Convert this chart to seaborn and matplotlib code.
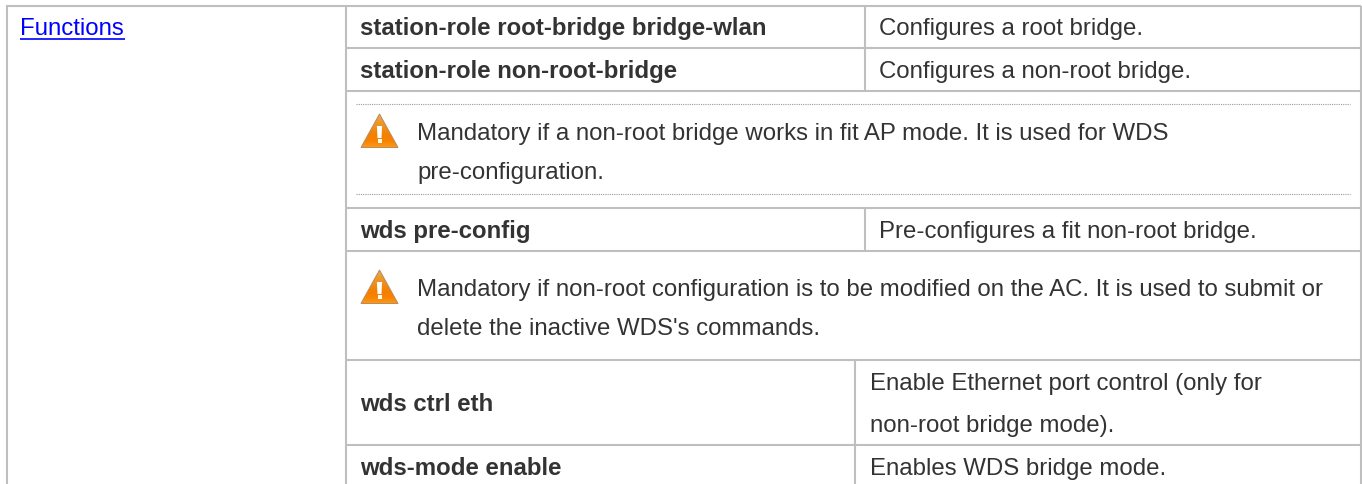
import numpy as np
import matplotlib
matplotlib.use("Agg")
import matplotlib.pyplot as plt
from matplotlib.patches import Polygon
import seaborn as sns

# Table contents
link_label = "Functions"
commands = ["station-role root-bridge bridge-wlan", "station-role non-root-bridge",
            "wds pre-config", "wds ctrl eth", "wds-mode enable"]
descriptions = ["Configures a root bridge.", "Configures a non-root bridge.",
                "Pre-configures a fit non-root bridge.",
                "Enable Ethernet port control (only for", "non-root bridge mode).",
                "Enables WDS bridge mode."]
notes = ["Mandatory if a non-root bridge works in fit AP mode. It is used for WDS",
         "pre-configuration.",
         "Mandatory if non-root configuration is to be modified on the AC. It is used to submit or",
         "delete the inactive WDS's commands."]

# Layout in image pixels
W, H = 1362, 484
FS = 17.3
FS_BOLD = 17.25
TEXT = "#333333"
RULE = "#bfbfbf"
command_x = [360, 360, 360, 360, 360]
command_y = [35, 78, 238, 411, 475]
desc_x = [879, 879, 879, 870, 870, 870]
desc_y = [35, 78, 238, 390, 432, 475]
note_y = [140, 179, 296, 335]
rule_y = [5.5, 47.5, 90.5, 208, 251, 359.5, 445]
# col split: x, top, bottom
splits = [(865, 5.5, 90.5), (865, 208, 251), (855, 359.5, 484)]
dotted_y = [104, 194]
icon_tops = [114, 270]

sns.set_theme(style="white")
plt.rcParams["font.family"] = ["Liberation Sans", "DejaVu Sans"]

fig, ax = plt.subplots(figsize=(W / 100, H / 100), dpi=100)
fig.subplots_adjust(0, 0, 1, 1)
ax.set_xlim(0, W)
ax.set_ylim(H, 0)
ax.axis("off")

# Rules
ax.hlines(rule_y[0], 6, 1361, color=RULE, lw=1.5)
ax.hlines(rule_y[1:], 346, 1361, color=RULE, lw=1.5)
ax.vlines([6.5, 346, 1361], rule_y[0], H, color=RULE, lw=1.5)
for x, y0, y1 in splits:
    ax.vlines(x, y0, y1, color=RULE, lw=1.5)
ax.hlines(dotted_y, 356, 1350, color="#9a9a9a", lw=0.8, linestyles=(0, (1, 1)))

# Warning icons
orange = sns.blend_palette(["#e8a85a", "#ec9a30", "#f08e18", "#f48000", "#f88200", "#fb9a1c"], n_colors=34)
gradient = np.array(orange)[:, None, :]
for top in icon_tops:
    tri = [(379.5, top), (398, top + 33.5), (361, top + 33.5)]
    im = ax.imshow(gradient, extent=(361, 398, top + 34, top), aspect="auto", zorder=2)
    clip = Polygon(tri, transform=ax.transData, fc="none", ec="none")
    ax.add_patch(clip)
    im.set_clip_path(clip)
    ax.add_patch(Polygon(tri, fc="none", ec="#b98a5c", lw=0.7, zorder=3))
    ax.add_patch(Polygon([(376.9, top + 12), (382.1, top + 12), (381.5, top + 24), (377.5, top + 24)],
                         fc="white", ec="none", zorder=4))
    ax.add_patch(Polygon([(377.5, top + 25), (381.5, top + 25), (381.5, top + 28.8), (377.5, top + 28.8)],
                         fc="white", ec="none", zorder=4))
ax.set_xlim(0, W)
ax.set_ylim(H, 0)

# Text
ax.text(20, 35, link_label, fontsize=FS, color="#0000ff", va="baseline")
ax.hlines(38.5, 20, 124.5, color="#0000ff", lw=1.2)
for label, x, y in zip(commands, command_x, command_y):
    ax.text(x, y, label, fontsize=FS_BOLD, color=TEXT, fontweight="bold", va="baseline")
for label, x, y in zip(descriptions, desc_x, desc_y):
    ax.text(x, y, label, fontsize=FS, color=TEXT, va="baseline")
for label, y in zip(notes, note_y):
    ax.text(417, y, label, fontsize=FS, color=TEXT, va="baseline")

fig.savefig("out.png", dpi=100)
